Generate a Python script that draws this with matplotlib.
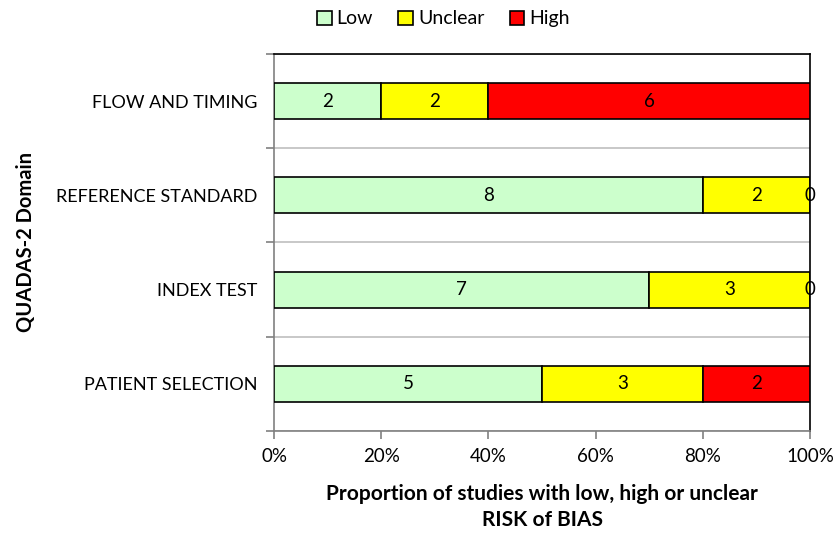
import numpy as np
import matplotlib
matplotlib.use("Agg")
import matplotlib.pyplot as plt
from matplotlib.ticker import PercentFormatter

plt.rcParams["font.family"] = ["Lato", "DejaVu Sans"]

DOMAINS = ["PATIENT SELECTION", "INDEX TEST", "REFERENCE STANDARD", "FLOW AND TIMING"]
LEVELS = ["Low", "Unclear", "High"]
LOW = [5, 7, 8, 2]
UNCLEAR = [3, 3, 2, 2]
HIGH = [2, 0, 0, 6]
COLORS = {"Low": "#CCFFCC", "Unclear": "#FFFF00", "High": "#FF0000"}

counts = np.array([LOW, UNCLEAR, HIGH], dtype=float)
totals = counts.sum(axis=0)
props = counts / totals

fig = plt.figure(figsize=(8.36, 5.34), dpi=100)
ax = fig.add_axes([0.3278, 0.1929, 0.6411, 0.7060])

y = np.arange(len(DOMAINS))
left = np.zeros(len(DOMAINS))
for lvl, p, c in zip(LEVELS, props, counts):
    ax.barh(y, p, left=left, height=0.38, color=COLORS[lvl],
            edgecolor="black", linewidth=1.2, label=lvl, zorder=3)
    for yi, l, w, n in zip(y, left, p, c):
        ax.text(l + w / 2, yi, f"{int(n)}", ha="center", va="center",
                fontsize=13.5, color="black", zorder=4)
    left += p

ax.set_xlim(0, 1)
ax.set_ylim(-0.5, len(DOMAINS) - 0.5)
ax.xaxis.set_major_formatter(PercentFormatter(1.0, decimals=0))
ax.set_xticks(np.linspace(0, 1, 6))
ax.set_yticks(y)
ax.set_yticklabels(DOMAINS)
ax.set_yticks(np.arange(-0.5, len(DOMAINS), 1), minor=True)
ax.tick_params(axis="y", which="major", length=0, pad=12, labelsize=13)
ax.tick_params(axis="y", which="minor", length=6, color="#808080", width=1.2)
ax.tick_params(axis="x", length=6, color="#808080", width=1.2, labelsize=13.5, pad=6)
ax.grid(axis="y", which="minor", color="#BFBFBF", linewidth=1.2, zorder=0)

for side in ["left", "bottom"]:
    ax.spines[side].set_color("#808080")
    ax.spines[side].set_linewidth(1.2)
for side in ["top", "right"]:
    ax.spines[side].set_color("black")
    ax.spines[side].set_linewidth(1.2)

ax.set_ylabel("QUADAS-2 Domain", fontsize=14.5, fontweight="bold")
ax.yaxis.set_label_coords(-0.445, 0.5)
ax.set_xlabel("Proportion of studies with low, high or unclear\nRISK of BIAS",
              fontsize=15, fontweight="bold", labelpad=14, linespacing=1.35)

ax.legend(loc="center", bbox_to_anchor=(0.316, 1.093), ncol=3, frameon=False,
          fontsize=14, handlelength=0.75, handleheight=0.75, handletextpad=0.25,
          columnspacing=1.3, borderaxespad=0)

fig.savefig("out.png", dpi=100)
